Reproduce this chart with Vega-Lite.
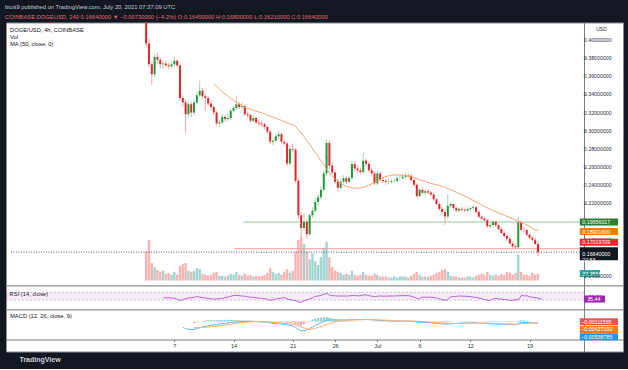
{
"$schema":"https://vega.github.io/schema/vega-lite/v6.json",
"background":"#131722",
"padding":{"left":5,"right":6,"top":3.5,"bottom":5},
"spacing":0,
"bounds":"flush",
"title":{"text":"btott9 published on TradingView.com, July 20, 2021 07:37:09 UTC","subtitle":"COINBASE:DOGEUSD, 240  0.16640000 ▼ −0.00730000 (−4.2%)  O:0.16450000  H:0.16800000  L:0.16210000  C:0.16640000","anchor":"start","fontSize":5.8,"subtitleFontSize":5.8,"color":"#c8cbd3","subtitleColor":"#e36a70","fontWeight":"normal","subtitlePadding":4,"offset":2.5,"font":"Liberation Sans","subtitleFont":"Liberation Sans"},
"config":{"font":"Liberation Sans","view":{"fill":"#ffffff","stroke":"#8a8d96","strokeWidth":1},"concat":{"spacing":0},"axis":{"grid":false,"labelOverlap":false,"labelFont":"Liberation Sans","titleFont":"Liberation Sans"}},
"resolve":{"scale":{"x":"independent"}},
"datasets":{
"pt":[{"p":0.14},{"p":0.16},{"p":0.18},{"p":0.20},{"p":0.22},{"p":0.24},{"p":0.26},{"p":0.28},{"p":0.30},{"p":0.32},{"p":0.34},{"p":0.36},{"p":0.38},{"p":0.40}],
"lv":[{"p":0.19956017,"s":"2021-06-15T03:30:00Z","k":"g"},{"p":0.17019709,"s":"2021-06-14T01:30:00Z","k":"r"}],
"lab":[{"k":"g","v":0.19956017,"t":"0.19956017"},{"k":"ma","v":0.189016,"t":"0.18901600"},{"k":"r","v":0.17019709,"t":"0.17019709"},{"k":"last","v":0.1664,"t":"0.16640000\n22:53"}],
"vl":[{"v":37.3866,"t":"37.3866"}],
"rl":[{"v":35.44,"t":"35.44"}],
"ml":[{"k":"h","v":-0.00111595,"t":"−0.00111595"},{"k":"s","v":-0.0042719,"t":"−0.00427190"},{"k":"m","v":-0.00538785,"t":"−0.00538785"}],
"k":[
{"t":"2021-06-03T16:00:00Z","o":0.428,"h":0.434,"l":0.392,"c":0.396,"v":156},
{"t":"2021-06-04T00:00:00Z","o":0.396,"h":0.401,"l":0.370,"c":0.373,"v":218},
{"t":"2021-06-04T08:00:00Z","o":0.373,"h":0.376,"l":0.350,"c":0.362,"v":94},
{"t":"2021-06-04T16:00:00Z","o":0.362,"h":0.384,"l":0.359,"c":0.381,"v":73},
{"t":"2021-06-05T00:00:00Z","o":0.381,"h":0.386,"l":0.374,"c":0.378,"v":57},
{"t":"2021-06-05T08:00:00Z","o":0.378,"h":0.381,"l":0.369,"c":0.373,"v":47},
{"t":"2021-06-05T16:00:00Z","o":0.373,"h":0.377,"l":0.368,"c":0.374,"v":52},
{"t":"2021-06-06T00:00:00Z","o":0.374,"h":0.377,"l":0.369,"c":0.372,"v":36,"r":43},
{"t":"2021-06-06T08:00:00Z","o":0.372,"h":0.375,"l":0.368,"c":0.371,"v":42,"r":42},
{"t":"2021-06-06T16:00:00Z","o":0.371,"h":0.376,"l":0.369,"c":0.373,"v":31,"r":41.5},
{"t":"2021-06-07T00:00:00Z","o":0.373,"h":0.381,"l":0.371,"c":0.377,"v":47,"r":41},
{"t":"2021-06-07T08:00:00Z","o":0.377,"h":0.379,"l":0.369,"c":0.3717,"v":31,"r":40},
{"t":"2021-06-07T16:00:00Z","o":0.3717,"h":0.374,"l":0.333,"c":0.336,"v":78,"r":33},
{"t":"2021-06-08T00:00:00Z","o":0.336,"h":0.339,"l":0.326,"c":0.331,"v":88,"r":28,"m":-0.018},
{"t":"2021-06-08T08:00:00Z","o":0.331,"h":0.334,"l":0.297,"c":0.318,"v":94,"r":33,"m":-0.022},
{"t":"2021-06-08T16:00:00Z","o":0.318,"h":0.333,"l":0.314,"c":0.329,"v":52,"r":38,"m":-0.024},
{"t":"2021-06-09T00:00:00Z","o":0.329,"h":0.332,"l":0.315,"c":0.320,"v":47,"r":42,"m":-0.025},
{"t":"2021-06-09T08:00:00Z","o":0.320,"h":0.334,"l":0.317,"c":0.331,"v":52,"r":43,"m":-0.024,"s":-0.018,"g":-0.006},
{"t":"2021-06-09T16:00:00Z","o":0.331,"h":0.343,"l":0.329,"c":0.339,"v":68,"r":46,"m":-0.022,"s":-0.019,"g":-0.003},
{"t":"2021-06-10T00:00:00Z","o":0.339,"h":0.355,"l":0.337,"c":0.344,"v":62,"r":48,"m":-0.019,"s":-0.019,"g":0},
{"t":"2021-06-10T08:00:00Z","o":0.344,"h":0.347,"l":0.335,"c":0.338,"v":36,"r":45,"m":-0.017,"s":-0.0185,"g":0.0015},
{"t":"2021-06-10T16:00:00Z","o":0.338,"h":0.341,"l":0.322,"c":0.336,"v":31,"r":42,"m":-0.015,"s":-0.018,"g":0.003},
{"t":"2021-06-11T00:00:00Z","o":0.336,"h":0.338,"l":0.327,"c":0.330,"v":26,"r":40,"m":-0.013,"s":-0.017,"g":0.004},
{"t":"2021-06-11T08:00:00Z","o":0.330,"h":0.333,"l":0.323,"c":0.326,"v":31,"r":38,"m":-0.0115,"s":-0.016,"g":0.0045},
{"t":"2021-06-11T16:00:00Z","o":0.326,"h":0.328,"l":0.317,"c":0.320,"v":42,"ma":0.352,"r":36,"m":-0.0105,"s":-0.015,"g":0.0045},
{"t":"2021-06-12T00:00:00Z","o":0.320,"h":0.322,"l":0.305,"c":0.308,"v":47,"ma":0.349,"r":35,"m":-0.0095,"s":-0.014,"g":0.0045},
{"t":"2021-06-12T08:00:00Z","o":0.308,"h":0.312,"l":0.304,"c":0.309,"v":26,"ma":0.346,"r":36,"m":-0.008,"s":-0.013,"g":0.005},
{"t":"2021-06-12T16:00:00Z","o":0.309,"h":0.318,"l":0.307,"c":0.315,"v":26,"ma":0.343,"r":38,"m":-0.0068,"s":-0.0118,"g":0.005},
{"t":"2021-06-13T00:00:00Z","o":0.315,"h":0.317,"l":0.310,"c":0.313,"v":21,"ma":0.3405,"r":40,"m":-0.0055,"s":-0.0105,"g":0.005},
{"t":"2021-06-13T08:00:00Z","o":0.313,"h":0.318,"l":0.310,"c":0.314,"v":26,"ma":0.338,"r":44,"m":-0.0042,"s":-0.0093,"g":0.0051},
{"t":"2021-06-13T16:00:00Z","o":0.314,"h":0.324,"l":0.312,"c":0.322,"v":36,"ma":0.3355,"r":48,"m":-0.003,"s":-0.008,"g":0.005},
{"t":"2021-06-14T00:00:00Z","o":0.322,"h":0.327,"l":0.320,"c":0.325,"v":31,"ma":0.3335,"r":52,"m":-0.002,"s":-0.0068,"g":0.0048},
{"t":"2021-06-14T08:00:00Z","o":0.325,"h":0.338,"l":0.323,"c":0.329,"v":47,"ma":0.3315,"r":55,"m":-0.001,"s":-0.0056,"g":0.0046},
{"t":"2021-06-14T16:00:00Z","o":0.329,"h":0.332,"l":0.323,"c":0.326,"v":31,"ma":0.3295,"r":54,"m":-0.0004,"s":-0.0045,"g":0.0041},
{"t":"2021-06-15T00:00:00Z","o":0.326,"h":0.331,"l":0.322,"c":0.327,"v":26,"ma":0.3275,"r":52,"m":0,"s":-0.0035,"g":0.0035},
{"t":"2021-06-15T08:00:00Z","o":0.327,"h":0.329,"l":0.316,"c":0.318,"v":36,"ma":0.326,"r":50,"m":0.0004,"s":-0.0026,"g":0.003},
{"t":"2021-06-15T16:00:00Z","o":0.318,"h":0.321,"l":0.314,"c":0.317,"v":26,"ma":0.3248,"r":49,"m":0.0008,"s":-0.0018,"g":0.0026},
{"t":"2021-06-16T00:00:00Z","o":0.317,"h":0.319,"l":0.309,"c":0.311,"v":31,"ma":0.3235,"r":46,"m":0.0008,"s":-0.0011,"g":0.0019},
{"t":"2021-06-16T08:00:00Z","o":0.311,"h":0.317,"l":0.309,"c":0.314,"v":21,"ma":0.3225,"r":44,"m":0.0006,"s":-0.0006,"g":0.0012},
{"t":"2021-06-16T16:00:00Z","o":0.314,"h":0.316,"l":0.307,"c":0.309,"v":26,"ma":0.3215,"r":43,"m":0.0002,"s":-0.0003,"g":0.0005},
{"t":"2021-06-17T00:00:00Z","o":0.309,"h":0.312,"l":0.305,"c":0.308,"v":21,"ma":0.3205,"r":41,"m":-0.0005,"s":-0.0002,"g":-0.0003},
{"t":"2021-06-17T08:00:00Z","o":0.308,"h":0.311,"l":0.304,"c":0.307,"v":26,"ma":0.3195,"r":40,"m":-0.0012,"s":-0.0004,"g":-0.0008},
{"t":"2021-06-17T16:00:00Z","o":0.307,"h":0.309,"l":0.301,"c":0.304,"v":31,"ma":0.3185,"r":38,"m":-0.002,"s":-0.0007,"g":-0.0013},
{"t":"2021-06-18T00:00:00Z","o":0.304,"h":0.306,"l":0.296,"c":0.299,"v":42,"ma":0.3172,"r":35,"m":-0.003,"s":-0.0012,"g":-0.0018},
{"t":"2021-06-18T08:00:00Z","o":0.299,"h":0.301,"l":0.285,"c":0.288,"v":68,"ma":0.316,"r":30,"m":-0.0045,"s":-0.0018,"g":-0.0027},
{"t":"2021-06-18T16:00:00Z","o":0.288,"h":0.292,"l":0.284,"c":0.289,"v":47,"ma":0.3148,"r":29,"m":-0.006,"s":-0.0026,"g":-0.0034},
{"t":"2021-06-19T00:00:00Z","o":0.289,"h":0.297,"l":0.287,"c":0.294,"v":36,"ma":0.3137,"r":35,"m":-0.0068,"s":-0.0035,"g":-0.0033},
{"t":"2021-06-19T08:00:00Z","o":0.294,"h":0.300,"l":0.291,"c":0.296,"v":42,"ma":0.3125,"r":38,"m":-0.007,"s":-0.0043,"g":-0.0027},
{"t":"2021-06-19T16:00:00Z","o":0.296,"h":0.298,"l":0.286,"c":0.288,"v":31,"ma":0.3113,"r":40,"m":-0.0075,"s":-0.005,"g":-0.0025},
{"t":"2021-06-20T00:00:00Z","o":0.288,"h":0.290,"l":0.283,"c":0.286,"v":47,"ma":0.310,"r":43,"m":-0.0085,"s":-0.0057,"g":-0.0028},
{"t":"2021-06-20T08:00:00Z","o":0.286,"h":0.288,"l":0.261,"c":0.264,"v":62,"ma":0.3088,"r":38,"m":-0.0105,"s":-0.0065,"g":-0.004},
{"t":"2021-06-20T16:00:00Z","o":0.264,"h":0.283,"l":0.262,"c":0.280,"v":42,"ma":0.3075,"r":32,"m":-0.012,"s":-0.0075,"g":-0.0045},
{"t":"2021-06-21T00:00:00Z","o":0.280,"h":0.286,"l":0.276,"c":0.279,"v":52,"ma":0.3063,"r":30,"m":-0.014,"s":-0.0088,"g":-0.0052},
{"t":"2021-06-21T08:00:00Z","o":0.279,"h":0.281,"l":0.242,"c":0.245,"v":156,"ma":0.305,"r":28,"m":-0.0185,"s":-0.0105,"g":-0.008},
{"t":"2021-06-21T16:00:00Z","o":0.245,"h":0.248,"l":0.203,"c":0.207,"v":218,"ma":0.301,"r":22,"m":-0.0245,"s":-0.013,"g":-0.0115},
{"t":"2021-06-22T00:00:00Z","o":0.207,"h":0.211,"l":0.180,"c":0.193,"v":234,"ma":0.2975,"r":18,"m":-0.029,"s":-0.0165,"g":-0.0125},
{"t":"2021-06-22T08:00:00Z","o":0.193,"h":0.209,"l":0.190,"c":0.200,"v":198,"ma":0.2935,"r":26,"m":-0.028,"s":-0.020,"g":-0.008},
{"t":"2021-06-22T16:00:00Z","o":0.200,"h":0.203,"l":0.181,"c":0.186,"v":156,"ma":0.289,"r":30,"m":-0.026,"s":-0.023,"g":-0.003},
{"t":"2021-06-23T00:00:00Z","o":0.186,"h":0.209,"l":0.184,"c":0.207,"v":114,"ma":0.285,"r":36,"m":-0.022,"s":-0.024,"g":0.002},
{"t":"2021-06-23T08:00:00Z","o":0.207,"h":0.216,"l":0.204,"c":0.212,"v":146,"ma":0.2805,"r":42,"m":-0.017,"s":-0.023,"g":0.006},
{"t":"2021-06-23T16:00:00Z","o":0.212,"h":0.226,"l":0.210,"c":0.2215,"v":104,"ma":0.276,"r":49,"m":-0.012,"s":-0.021,"g":0.009},
{"t":"2021-06-24T00:00:00Z","o":0.2215,"h":0.230,"l":0.218,"c":0.2268,"v":83,"ma":0.2715,"r":51,"m":-0.008,"s":-0.019,"g":0.011},
{"t":"2021-06-24T08:00:00Z","o":0.2268,"h":0.239,"l":0.224,"c":0.2352,"v":125,"ma":0.267,"r":55,"m":-0.004,"s":-0.016,"g":0.012},
{"t":"2021-06-24T16:00:00Z","o":0.2352,"h":0.256,"l":0.233,"c":0.2532,"v":177,"ma":0.2625,"r":60,"m":0,"s":-0.013,"g":0.013},
{"t":"2021-06-25T00:00:00Z","o":0.2532,"h":0.2903,"l":0.251,"c":0.2864,"v":208,"ma":0.258,"r":65,"m":0.004,"s":-0.010,"g":0.014},
{"t":"2021-06-25T08:00:00Z","o":0.2864,"h":0.289,"l":0.258,"c":0.2617,"v":125,"ma":0.2538,"r":56,"m":0.005,"s":-0.0065,"g":0.0115},
{"t":"2021-06-25T16:00:00Z","o":0.2617,"h":0.265,"l":0.252,"c":0.254,"v":73,"ma":0.250,"r":53,"m":0.0052,"s":-0.004,"g":0.0092},
{"t":"2021-06-26T00:00:00Z","o":0.254,"h":0.257,"l":0.241,"c":0.244,"v":52,"ma":0.247,"r":52,"m":0.0052,"s":-0.0015,"g":0.0067},
{"t":"2021-06-26T08:00:00Z","o":0.244,"h":0.247,"l":0.233,"c":0.2374,"v":47,"ma":0.2445,"r":51,"m":0.005,"s":0.0005,"g":0.0045},
{"t":"2021-06-26T16:00:00Z","o":0.2374,"h":0.247,"l":0.236,"c":0.244,"v":42,"ma":0.2422,"r":51,"m":0.0048,"s":0.0018,"g":0.003},
{"t":"2021-06-27T00:00:00Z","o":0.244,"h":0.251,"l":0.242,"c":0.2476,"v":31,"ma":0.2403,"r":51,"m":0.0048,"s":0.0028,"g":0.002},
{"t":"2021-06-27T08:00:00Z","o":0.2476,"h":0.250,"l":0.241,"c":0.244,"v":36,"ma":0.2388,"r":51,"m":0.005,"s":0.0035,"g":0.0015},
{"t":"2021-06-27T16:00:00Z","o":0.244,"h":0.251,"l":0.242,"c":0.2479,"v":31,"ma":0.2378,"r":52,"m":0.0052,"s":0.004,"g":0.0012},
{"t":"2021-06-28T00:00:00Z","o":0.2479,"h":0.267,"l":0.246,"c":0.2635,"v":52,"ma":0.2372,"r":54,"m":0.0058,"s":0.0044,"g":0.0014},
{"t":"2021-06-28T08:00:00Z","o":0.2635,"h":0.266,"l":0.255,"c":0.2585,"v":31,"ma":0.2368,"r":53,"m":0.006,"s":0.0048,"g":0.0012},
{"t":"2021-06-28T16:00:00Z","o":0.2585,"h":0.262,"l":0.253,"c":0.2564,"v":26,"ma":0.2368,"r":52,"m":0.006,"s":0.0051,"g":0.0009},
{"t":"2021-06-29T00:00:00Z","o":0.2564,"h":0.259,"l":0.252,"c":0.2546,"v":31,"ma":0.237,"r":53,"m":0.006,"s":0.0054,"g":0.0006},
{"t":"2021-06-29T08:00:00Z","o":0.2546,"h":0.2758,"l":0.253,"c":0.267,"v":47,"ma":0.2378,"r":57,"m":0.0063,"s":0.0056,"g":0.0007},
{"t":"2021-06-29T16:00:00Z","o":0.267,"h":0.270,"l":0.261,"c":0.2638,"v":31,"ma":0.2388,"r":56,"m":0.0062,"s":0.0058,"g":0.0004},
{"t":"2021-06-30T00:00:00Z","o":0.2638,"h":0.266,"l":0.254,"c":0.2564,"v":26,"ma":0.240,"r":52,"m":0.0058,"s":0.0059,"g":-0.0001},
{"t":"2021-06-30T08:00:00Z","o":0.2564,"h":0.259,"l":0.250,"c":0.2529,"v":26,"ma":0.2415,"r":50,"m":0.0052,"s":0.0058,"g":-0.0006},
{"t":"2021-06-30T16:00:00Z","o":0.2529,"h":0.255,"l":0.240,"c":0.2423,"v":36,"ma":0.243,"r":48,"m":0.0045,"s":0.0056,"g":-0.0011},
{"t":"2021-07-01T00:00:00Z","o":0.2423,"h":0.256,"l":0.240,"c":0.2529,"v":31,"ma":0.2448,"r":51,"m":0.004,"s":0.0053,"g":-0.0013},
{"t":"2021-07-01T08:00:00Z","o":0.2529,"h":0.255,"l":0.244,"c":0.2458,"v":21,"ma":0.2465,"r":51,"m":0.0035,"s":0.005,"g":-0.0015},
{"t":"2021-07-01T16:00:00Z","o":0.2458,"h":0.249,"l":0.242,"c":0.2448,"v":21,"ma":0.248,"r":50,"m":0.003,"s":0.0046,"g":-0.0016},
{"t":"2021-07-02T00:00:00Z","o":0.2448,"h":0.247,"l":0.240,"c":0.2437,"v":21,"ma":0.2495,"r":51,"m":0.0025,"s":0.0042,"g":-0.0017},
{"t":"2021-07-02T08:00:00Z","o":0.2437,"h":0.247,"l":0.241,"c":0.244,"v":16,"ma":0.2505,"r":51,"m":0.002,"s":0.0038,"g":-0.0018},
{"t":"2021-07-02T16:00:00Z","o":0.244,"h":0.247,"l":0.242,"c":0.2448,"v":16,"ma":0.2511,"r":51,"m":0.0016,"s":0.0034,"g":-0.0018},
{"t":"2021-07-03T00:00:00Z","o":0.2448,"h":0.248,"l":0.243,"c":0.245,"v":21,"ma":0.2513,"r":52,"m":0.0013,"s":0.003,"g":-0.0017},
{"t":"2021-07-03T08:00:00Z","o":0.245,"h":0.250,"l":0.243,"c":0.2476,"v":16,"ma":0.2513,"r":52,"m":0.0012,"s":0.0026,"g":-0.0014},
{"t":"2021-07-03T16:00:00Z","o":0.2476,"h":0.250,"l":0.245,"c":0.2476,"v":21,"ma":0.2512,"r":53,"m":0.0012,"s":0.0023,"g":-0.0011},
{"t":"2021-07-04T00:00:00Z","o":0.2476,"h":0.252,"l":0.246,"c":0.2493,"v":21,"ma":0.251,"r":53,"m":0.0012,"s":0.0021,"g":-0.0009},
{"t":"2021-07-04T08:00:00Z","o":0.2493,"h":0.254,"l":0.247,"c":0.2511,"v":21,"ma":0.2505,"r":53,"m":0.0012,"s":0.0019,"g":-0.0007},
{"t":"2021-07-04T16:00:00Z","o":0.2511,"h":0.253,"l":0.248,"c":0.2505,"v":16,"ma":0.2498,"r":52,"m":0.001,"s":0.0017,"g":-0.0007},
{"t":"2021-07-05T00:00:00Z","o":0.2505,"h":0.252,"l":0.244,"c":0.2458,"v":26,"ma":0.249,"r":47,"m":0.0005,"s":0.0015,"g":-0.001},
{"t":"2021-07-05T08:00:00Z","o":0.2458,"h":0.247,"l":0.238,"c":0.2405,"v":36,"ma":0.2482,"r":42,"m":-0.0003,"s":0.0012,"g":-0.0015},
{"t":"2021-07-05T16:00:00Z","o":0.2405,"h":0.242,"l":0.226,"c":0.2281,"v":47,"ma":0.2472,"r":36,"m":-0.0015,"s":0.0007,"g":-0.0022},
{"t":"2021-07-06T00:00:00Z","o":0.2281,"h":0.237,"l":0.227,"c":0.2352,"v":31,"ma":0.2462,"r":44,"m":-0.002,"s":0.0002,"g":-0.0022},
{"t":"2021-07-06T08:00:00Z","o":0.2352,"h":0.237,"l":0.230,"c":0.2317,"v":21,"ma":0.2452,"r":45,"m":-0.0025,"s":-0.0003,"g":-0.0022},
{"t":"2021-07-06T16:00:00Z","o":0.2317,"h":0.236,"l":0.229,"c":0.2334,"v":21,"ma":0.2442,"r":45,"m":-0.003,"s":-0.0008,"g":-0.0022},
{"t":"2021-07-07T00:00:00Z","o":0.2334,"h":0.236,"l":0.230,"c":0.232,"v":21,"ma":0.2432,"r":45,"m":-0.0035,"s":-0.0013,"g":-0.0022},
{"t":"2021-07-07T08:00:00Z","o":0.232,"h":0.234,"l":0.228,"c":0.2299,"v":26,"ma":0.2422,"r":44,"m":-0.004,"s":-0.0018,"g":-0.0022},
{"t":"2021-07-07T16:00:00Z","o":0.2299,"h":0.232,"l":0.223,"c":0.2246,"v":31,"ma":0.2413,"r":42,"m":-0.0048,"s":-0.0024,"g":-0.0024},
{"t":"2021-07-08T00:00:00Z","o":0.2246,"h":0.226,"l":0.218,"c":0.2193,"v":42,"ma":0.2405,"r":38,"m":-0.0056,"s":-0.003,"g":-0.0026},
{"t":"2021-07-08T08:00:00Z","o":0.2193,"h":0.222,"l":0.212,"c":0.214,"v":47,"ma":0.2398,"r":34,"m":-0.0064,"s":-0.0036,"g":-0.0028},
{"t":"2021-07-08T16:00:00Z","o":0.214,"h":0.216,"l":0.208,"c":0.2106,"v":57,"ma":0.2386,"r":30,"m":-0.0072,"s":-0.0043,"g":-0.0029},
{"t":"2021-07-09T00:00:00Z","o":0.2106,"h":0.213,"l":0.1964,"c":0.2056,"v":62,"ma":0.2375,"r":29,"m":-0.0078,"s":-0.005,"g":-0.0028},
{"t":"2021-07-09T08:00:00Z","o":0.2056,"h":0.230,"l":0.204,"c":0.2176,"v":47,"ma":0.2365,"r":45,"m":-0.0074,"s":-0.0055,"g":-0.0019},
{"t":"2021-07-09T16:00:00Z","o":0.2176,"h":0.222,"l":0.215,"c":0.2193,"v":26,"ma":0.2352,"r":48,"m":-0.007,"s":-0.0059,"g":-0.0011},
{"t":"2021-07-10T00:00:00Z","o":0.2193,"h":0.221,"l":0.213,"c":0.2151,"v":21,"ma":0.2338,"r":49,"m":-0.0065,"s":-0.0061,"g":-0.0004},
{"t":"2021-07-10T08:00:00Z","o":0.2151,"h":0.217,"l":0.210,"c":0.2123,"v":21,"ma":0.2324,"r":51,"m":-0.006,"s":-0.0062,"g":0.0002},
{"t":"2021-07-10T16:00:00Z","o":0.2123,"h":0.216,"l":0.210,"c":0.214,"v":16,"ma":0.231,"r":51,"m":-0.0055,"s":-0.0061,"g":0.0006},
{"t":"2021-07-11T00:00:00Z","o":0.214,"h":0.216,"l":0.211,"c":0.213,"v":16,"ma":0.2295,"r":50,"m":-0.005,"s":-0.006,"g":0.001},
{"t":"2021-07-11T08:00:00Z","o":0.213,"h":0.215,"l":0.210,"c":0.2123,"v":16,"ma":0.228,"r":49,"m":-0.0046,"s":-0.0057,"g":0.0011},
{"t":"2021-07-11T16:00:00Z","o":0.2123,"h":0.216,"l":0.211,"c":0.214,"v":21,"ma":0.2265,"r":48,"m":-0.0042,"s":-0.0054,"g":0.0012},
{"t":"2021-07-12T00:00:00Z","o":0.214,"h":0.217,"l":0.212,"c":0.2151,"v":21,"ma":0.225,"r":46,"m":-0.004,"s":-0.0051,"g":0.0011},
{"t":"2021-07-12T08:00:00Z","o":0.2151,"h":0.218,"l":0.213,"c":0.2159,"v":16,"ma":0.2235,"r":44,"m":-0.0038,"s":-0.0048,"g":0.001},
{"t":"2021-07-12T16:00:00Z","o":0.2159,"h":0.217,"l":0.209,"c":0.2109,"v":26,"ma":0.2218,"r":41,"m":-0.004,"s":-0.0046,"g":0.0006},
{"t":"2021-07-13T00:00:00Z","o":0.2109,"h":0.212,"l":0.204,"c":0.2053,"v":31,"ma":0.2202,"r":38,"m":-0.0045,"s":-0.0045,"g":0},
{"t":"2021-07-13T08:00:00Z","o":0.2053,"h":0.207,"l":0.202,"c":0.2035,"v":36,"ma":0.2185,"r":33,"m":-0.0052,"s":-0.0046,"g":-0.0006},
{"t":"2021-07-13T16:00:00Z","o":0.2035,"h":0.205,"l":0.200,"c":0.2014,"v":31,"ma":0.2168,"r":30,"m":-0.006,"s":-0.0048,"g":-0.0012},
{"t":"2021-07-14T00:00:00Z","o":0.2014,"h":0.203,"l":0.193,"c":0.195,"v":47,"ma":0.2152,"r":28,"m":-0.0068,"s":-0.0051,"g":-0.0017},
{"t":"2021-07-14T08:00:00Z","o":0.195,"h":0.198,"l":0.193,"c":0.1964,"v":31,"ma":0.2138,"r":36,"m":-0.0072,"s":-0.0054,"g":-0.0018},
{"t":"2021-07-14T16:00:00Z","o":0.1964,"h":0.202,"l":0.195,"c":0.200,"v":26,"ma":0.2124,"r":38,"m":-0.0072,"s":-0.0058,"g":-0.0014},
{"t":"2021-07-15T00:00:00Z","o":0.200,"h":0.201,"l":0.194,"c":0.196,"v":31,"ma":0.211,"r":36,"m":-0.0074,"s":-0.0061,"g":-0.0013},
{"t":"2021-07-15T08:00:00Z","o":0.196,"h":0.198,"l":0.190,"c":0.1919,"v":26,"ma":0.2096,"r":35,"m":-0.0078,"s":-0.0064,"g":-0.0014},
{"t":"2021-07-15T16:00:00Z","o":0.1919,"h":0.194,"l":0.186,"c":0.1876,"v":36,"ma":0.2082,"r":33,"m":-0.0082,"s":-0.0067,"g":-0.0015},
{"t":"2021-07-16T00:00:00Z","o":0.1876,"h":0.190,"l":0.182,"c":0.1841,"v":31,"ma":0.207,"r":31,"m":-0.0086,"s":-0.007,"g":-0.0016},
{"t":"2021-07-16T08:00:00Z","o":0.1841,"h":0.186,"l":0.179,"c":0.1813,"v":47,"ma":0.2058,"r":29,"m":-0.009,"s":-0.0073,"g":-0.0017},
{"t":"2021-07-16T16:00:00Z","o":0.1813,"h":0.183,"l":0.175,"c":0.176,"v":42,"ma":0.2045,"r":30,"m":-0.0094,"s":-0.0077,"g":-0.0017},
{"t":"2021-07-17T00:00:00Z","o":0.176,"h":0.178,"l":0.171,"c":0.1728,"v":31,"ma":0.2032,"r":32,"m":-0.0098,"s":-0.0081,"g":-0.0017},
{"t":"2021-07-17T08:00:00Z","o":0.1728,"h":0.175,"l":0.1696,"c":0.1717,"v":42,"ma":0.2018,"r":33,"m":-0.0098,"s":-0.0084,"g":-0.0014},
{"t":"2021-07-17T16:00:00Z","o":0.1717,"h":0.2053,"l":0.170,"c":0.1993,"v":140,"ma":0.2005,"r":56,"m":-0.005,"s":-0.0078,"g":0.0028},
{"t":"2021-07-18T00:00:00Z","o":0.1993,"h":0.201,"l":0.189,"c":0.1911,"v":47,"ma":0.1992,"r":52,"m":-0.003,"s":-0.007,"g":0.004},
{"t":"2021-07-18T08:00:00Z","o":0.1911,"h":0.194,"l":0.188,"c":0.1908,"v":31,"ma":0.1978,"r":52,"m":-0.0025,"s":-0.006,"g":0.0035},
{"t":"2021-07-18T16:00:00Z","o":0.1908,"h":0.192,"l":0.184,"c":0.1855,"v":31,"ma":0.1962,"r":46,"m":-0.003,"s":-0.0055,"g":0.0025},
{"t":"2021-07-19T00:00:00Z","o":0.1855,"h":0.187,"l":0.181,"c":0.1823,"v":26,"ma":0.1945,"r":44,"m":-0.0038,"s":-0.005,"g":0.0012},
{"t":"2021-07-19T08:00:00Z","o":0.1823,"h":0.184,"l":0.178,"c":0.1802,"v":42,"ma":0.1928,"r":42,"m":-0.0045,"s":-0.0048,"g":0.0003},
{"t":"2021-07-19T16:00:00Z","o":0.1802,"h":0.182,"l":0.174,"c":0.1755,"v":31,"ma":0.1912,"r":39,"m":-0.005,"s":-0.0045,"g":-0.0005},
{"t":"2021-07-20T00:00:00Z","o":0.1755,"h":0.178,"l":0.1621,"c":0.1664,"v":37.39,"ma":0.1901,"r":35.44,"m":-0.00538785,"s":-0.0042719,"g":-0.00111595}
]},
"vconcat":[
{
"width":617,"height":263,
"title":{"text":["DOGE/USD, 4h, COINBASE","Vol","MA (50, close, 0)"],"anchor":"start","orient":"top","offset":-24.5,"dx":4,"fontSize":5.8,"color":"#131722","lineHeight":7.3,"fontWeight":"normal"},
"resolve":{"scale":{"y":"independent"}},
"layer":[
 {"layer":[
  {"data":{"name":"k"},"mark":{"type":"bar","size":2.4,"clip":true},"encoding":{
    "x":{"field":"t","type":"temporal","scale":{"type":"utc","domain":[{"year":2021,"month":5,"date":18,"hours":16,"minutes":30,"utc":true},{"year":2021,"month":7,"date":29,"hours":11,"utc":true}]},"axis":null},
    "y":{"field":"v","type":"quantitative","scale":{"domain":[0,1365],"nice":false},"axis":null,"stack":null},
    "color":{"condition":{"test":"datum.c >= datum.o","value":"#9fd6d1"},"value":"#f8b4b2"}}},
  {"data":{"name":"vl"},"layer":[
    {"mark":{"type":"bar","orient":"horizontal","size":7,"color":"#26a69a"},"encoding":{"x":{"datum":{"year":2021,"month":7,"date":24,"hours":22,"minutes":30,"utc":true},"type":"temporal","axis":null},"x2":{"datum":{"year":2021,"month":7,"date":27,"hours":8,"utc":true}},"y":{"field":"v","type":"quantitative","axis":null,"scale":{"domain":[0,1365],"nice":false}}}},
    {"mark":{"type":"text","align":"left","baseline":"middle","dx":2.5,"fontSize":5.3,"color":"#ffffff"},"encoding":{"x":{"datum":{"year":2021,"month":7,"date":24,"hours":22,"minutes":30,"utc":true},"type":"temporal","axis":null},"y":{"field":"v","type":"quantitative","axis":null,"scale":{"domain":[0,1365],"nice":false}},"text":{"field":"t"}}}
  ]}
 ]},
 {"layer":[
  {"data":{"name":"lv"},"mark":{"type":"rule","strokeWidth":1},"encoding":{
    "x":{"field":"s","type":"temporal","axis":null},
    "x2":{"datum":{"year":2021,"month":7,"date":24,"hours":22,"minutes":30,"utc":true}},
    "y":{"field":"p","type":"quantitative","title":"USD","scale":{"domain":[0.13524,0.41355],"nice":false,"zero":false},
      "axis":{"orient":"right","offset":-39,"values":[0.14,0.16,0.18,0.2,0.22,0.24,0.26,0.28,0.3,0.32,0.34,0.36,0.38,0.4],"labels":false,"tickSize":2,"tickColor":"#787b86","domainColor":"#787b86","titleAngle":0,"titleFontSize":5,"titleFontWeight":"normal","titleColor":"#2a2e39","titleX":17,"titleY":6,"titleAlign":"center","titleBaseline":"middle"}},
    "color":{"field":"k","type":"nominal","scale":{"domain":["g","r"],"range":["#8fc79a","#f59c9c"]},"legend":null}}},
  {"data":{"name":"pt"},"mark":{"type":"text","align":"left","baseline":"middle","dx":4,"fontSize":5.3,"color":"#2a2e39"},"encoding":{"x":{"datum":{"year":2021,"month":7,"date":24,"hours":22,"minutes":30,"utc":true},"type":"temporal","axis":null},"y":{"field":"p","type":"quantitative","title":"USD","scale":{"domain":[0.13524,0.41355],"nice":false,"zero":false}},"text":{"field":"p","format":".8f"}}},
  {"data":{"name":"lab"},"transform":[{"filter":"datum.k == 'last'"}],"mark":{"type":"rule","strokeDash":[1,1.5],"color":"#5d606b","strokeWidth":1},"encoding":{"x":{"datum":{"year":2021,"month":5,"date":18,"hours":16,"minutes":30,"utc":true},"type":"temporal","axis":null},"x2":{"datum":{"year":2021,"month":7,"date":24,"hours":22,"minutes":30,"utc":true}},"y":{"field":"v","type":"quantitative","title":"USD","scale":{"domain":[0.13524,0.41355],"nice":false,"zero":false}}}},
  {"data":{"name":"k"},"mark":{"type":"rule","strokeWidth":1,"clip":true},"encoding":{"x":{"field":"t","type":"temporal","axis":null},"y":{"field":"l","type":"quantitative","title":"USD","scale":{"domain":[0.13524,0.41355],"nice":false,"zero":false}},"y2":{"field":"h"},"color":{"condition":{"test":"datum.c >= datum.o","value":"#a3d9ae"},"value":"#f7a8a8"}}},
  {"data":{"name":"k"},"mark":{"type":"bar","size":2,"clip":true},"encoding":{"x":{"field":"t","type":"temporal","axis":null},"y":{"field":"o","type":"quantitative","title":"USD","scale":{"domain":[0.13524,0.41355],"nice":false,"zero":false}},"y2":{"field":"c"},"color":{"condition":{"test":"datum.c >= datum.o","value":"#1f9a3c"},"value":"#e0262b"}}},
  {"data":{"name":"k"},"mark":{"type":"line","color":"#f7a26b","strokeWidth":1,"clip":true},"encoding":{"x":{"field":"t","type":"temporal","axis":null},"y":{"field":"ma","type":"quantitative","title":"USD","scale":{"domain":[0.13524,0.41355],"nice":false,"zero":false}}}},
  {"data":{"name":"lab"},"transform":[{"filter":"datum.k == 'g'"}],"layer":[
    {"mark":{"type":"bar","orient":"horizontal","size":7,"color":"#2e7d32"},"encoding":{"x":{"datum":{"year":2021,"month":7,"date":24,"hours":22,"minutes":30,"utc":true},"type":"temporal","axis":null},"x2":{"datum":{"year":2021,"month":7,"date":29,"hours":11,"utc":true}},"y":{"field":"v","type":"quantitative","title":"USD"}}},
    {"mark":{"type":"text","align":"left","baseline":"middle","dx":2.5,"fontSize":5.3,"color":"#ffffff"},"encoding":{"x":{"datum":{"year":2021,"month":7,"date":24,"hours":22,"minutes":30,"utc":true},"type":"temporal","axis":null},"y":{"field":"v","type":"quantitative","title":"USD"},"text":{"field":"t"}}}
  ]},
  {"data":{"name":"lab"},"transform":[{"filter":"datum.k == 'ma'"}],"layer":[
    {"mark":{"type":"bar","orient":"horizontal","size":7,"color":"#f57c00"},"encoding":{"x":{"datum":{"year":2021,"month":7,"date":24,"hours":22,"minutes":30,"utc":true},"type":"temporal","axis":null},"x2":{"datum":{"year":2021,"month":7,"date":29,"hours":11,"utc":true}},"y":{"field":"v","type":"quantitative","title":"USD"}}},
    {"mark":{"type":"text","align":"left","baseline":"middle","dx":2.5,"fontSize":5.3,"color":"#ffffff"},"encoding":{"x":{"datum":{"year":2021,"month":7,"date":24,"hours":22,"minutes":30,"utc":true},"type":"temporal","axis":null},"y":{"field":"v","type":"quantitative","title":"USD"},"text":{"field":"t"}}}
  ]},
  {"data":{"name":"lab"},"transform":[{"filter":"datum.k == 'r'"}],"layer":[
    {"mark":{"type":"bar","orient":"horizontal","size":7,"color":"#f7252e","yOffset":-6.4},"encoding":{"x":{"datum":{"year":2021,"month":7,"date":24,"hours":22,"minutes":30,"utc":true},"type":"temporal","axis":null},"x2":{"datum":{"year":2021,"month":7,"date":29,"hours":11,"utc":true}},"y":{"field":"v","type":"quantitative","title":"USD"}}},
    {"mark":{"type":"text","align":"left","baseline":"middle","dx":2.5,"yOffset":-6.4,"fontSize":5.3,"color":"#ffffff"},"encoding":{"x":{"datum":{"year":2021,"month":7,"date":24,"hours":22,"minutes":30,"utc":true},"type":"temporal","axis":null},"y":{"field":"v","type":"quantitative","title":"USD"},"text":{"field":"t"}}}
  ]},
  {"data":{"name":"lab"},"transform":[{"filter":"datum.k == 'last'"}],"layer":[
    {"mark":{"type":"bar","orient":"horizontal","size":13,"color":"#131722","yOffset":1.5},"encoding":{"x":{"datum":{"year":2021,"month":7,"date":24,"hours":22,"minutes":30,"utc":true},"type":"temporal","axis":null},"x2":{"datum":{"year":2021,"month":7,"date":29,"hours":11,"utc":true}},"y":{"field":"v","type":"quantitative","title":"USD"}}},
    {"mark":{"type":"text","align":"left","baseline":"middle","dx":2.5,"yOffset":1.5,"fontSize":5.3,"lineBreak":"\n","lineHeight":6,"color":"#ffffff"},"encoding":{"x":{"datum":{"year":2021,"month":7,"date":24,"hours":22,"minutes":30,"utc":true},"type":"temporal","axis":null},"y":{"field":"v","type":"quantitative","title":"USD"},"text":{"field":"t"}}}
  ]}
 ]}
]
},
{
"width":617,"height":24,
"title":{"text":"RSI (14, close)","anchor":"start","orient":"top","offset":-11,"dx":4,"fontSize":5.8,"color":"#131722","fontWeight":"normal"},
"layer":[
 {"data":{"values":[{}]},"mark":{"type":"rect","color":"#9c27b0","opacity":0.09},"encoding":{
   "x":{"datum":{"year":2021,"month":5,"date":18,"hours":16,"minutes":30,"utc":true},"type":"temporal","scale":{"type":"utc","domain":[{"year":2021,"month":5,"date":18,"hours":16,"minutes":30,"utc":true},{"year":2021,"month":7,"date":29,"hours":11,"utc":true}]},"axis":null},
   "x2":{"datum":{"year":2021,"month":7,"date":24,"hours":22,"minutes":30,"utc":true}},
   "y":{"datum":70,"type":"quantitative","scale":{"domain":[7.4,79.6],"nice":false,"zero":false},"axis":{"orient":"right","offset":-39,"values":[50],"format":".2f","labelFontSize":5.3,"labelColor":"#2a2e39","labelPadding":2,"tickSize":2,"tickColor":"#787b86","domainColor":"#787b86","title":null}},
   "y2":{"datum":30}}},
 {"data":{"values":[{"y":70},{"y":30}]},"mark":{"type":"rule","strokeDash":[2,2],"color":"#c5a3d6","strokeWidth":0.8},"encoding":{"x":{"datum":{"year":2021,"month":5,"date":18,"hours":16,"minutes":30,"utc":true},"type":"temporal","axis":null},"x2":{"datum":{"year":2021,"month":7,"date":24,"hours":22,"minutes":30,"utc":true}},"y":{"field":"y","type":"quantitative","title":null}}},
 {"data":{"name":"k"},"mark":{"type":"line","color":"#b266cc","strokeWidth":1},"encoding":{"x":{"field":"t","type":"temporal","axis":null},"y":{"field":"r","type":"quantitative","title":null}}},
 {"data":{"name":"rl"},"layer":[
   {"mark":{"type":"bar","orient":"horizontal","size":7,"color":"#9c27b0"},"encoding":{"x":{"datum":{"year":2021,"month":7,"date":24,"hours":22,"minutes":30,"utc":true},"type":"temporal","axis":null},"x2":{"datum":{"year":2021,"month":7,"date":27,"hours":9,"utc":true}},"y":{"field":"v","type":"quantitative","title":null}}},
   {"mark":{"type":"text","align":"left","baseline":"middle","dx":3,"fontSize":5.3,"color":"#ffffff"},"encoding":{"x":{"datum":{"year":2021,"month":7,"date":24,"hours":22,"minutes":30,"utc":true},"type":"temporal","axis":null},"y":{"field":"v","type":"quantitative","title":null},"text":{"field":"t"}}}
 ]}
]
},
{
"width":617,"height":42,
"title":{"text":"MACD (12, 26, close, 9)","anchor":"start","orient":"top","offset":-9.5,"dx":4,"fontSize":5.8,"color":"#131722","fontWeight":"normal"},
"layer":[
 {"data":{"name":"k"},"mark":{"type":"bar","size":2.2},"encoding":{
   "x":{"field":"t","type":"temporal","scale":{"type":"utc","domain":[{"year":2021,"month":5,"date":18,"hours":16,"minutes":30,"utc":true},{"year":2021,"month":7,"date":29,"hours":11,"utc":true}]},
     "axis":{"orient":"bottom","offset":-12,"values":[{"year":2021,"month":6,"date":7,"utc":true},{"year":2021,"month":6,"date":14,"utc":true},{"year":2021,"month":6,"date":21,"utc":true},{"year":2021,"month":6,"date":26,"utc":true},{"year":2021,"month":7,"date":1,"utc":true},{"year":2021,"month":7,"date":6,"utc":true},{"year":2021,"month":7,"date":12,"utc":true},{"year":2021,"month":7,"date":19,"utc":true}],
       "labelExpr":"utcdate(datum.value) == 1 ? utcFormat(datum.value, '%b') : utcFormat(datum.value, '%-d')","labelFontSize":5.5,"labelColor":"#2a2e39","labelPadding":1.5,"tickSize":2,"tickColor":"#787b86","domainColor":"#787b86","labelFlush":false,
       "title":"TradingView","titleColor":"#d1d4dc","titleFontSize":7,"titleFontWeight":"bold","titleX":13,"titleY":22,"titleAlign":"left","titleAnchor":"start","titleBaseline":"alphabetic"}},
   "y":{"field":"g","type":"quantitative","title":null,"scale":{"domain":[-0.077,0.0216],"nice":false,"zero":false},"axis":{"orient":"right","offset":-39,"values":[],"labels":false,"ticks":false,"domainColor":"#787b86","title":null}},
   "y2":{"datum":0},
   "color":{"condition":{"test":"datum.g >= 0","value":"#93d3cd"},"value":"#f7aaa8"}}},
 {"data":{"name":"k"},"mark":{"type":"line","color":"#5fb7f2","strokeWidth":1},"encoding":{"x":{"field":"t","type":"temporal"},"y":{"field":"m","type":"quantitative","title":null}}},
 {"data":{"name":"k"},"mark":{"type":"line","color":"#ffae73","strokeWidth":1},"encoding":{"x":{"field":"t","type":"temporal"},"y":{"field":"s","type":"quantitative","title":null}}},
 {"data":{"name":"ml"},"transform":[{"filter":"datum.k == 'h'"}],"layer":[
   {"mark":{"type":"bar","orient":"horizontal","size":7,"color":"#ef5350"},"encoding":{"x":{"datum":{"year":2021,"month":7,"date":24,"hours":22,"minutes":30,"utc":true},"type":"temporal"},"x2":{"datum":{"year":2021,"month":7,"date":29,"hours":11,"utc":true}},"y":{"field":"v","type":"quantitative","title":null}}},
   {"mark":{"type":"text","align":"left","baseline":"middle","dx":1.5,"fontSize":5.3,"color":"#ffffff"},"encoding":{"x":{"datum":{"year":2021,"month":7,"date":24,"hours":22,"minutes":30,"utc":true},"type":"temporal"},"y":{"field":"v","type":"quantitative","title":null},"text":{"field":"t"}}}
 ]},
 {"data":{"name":"ml"},"transform":[{"filter":"datum.k == 's'"}],"layer":[
   {"mark":{"type":"bar","orient":"horizontal","size":7,"color":"#ff7a1a","yOffset":6.5},"encoding":{"x":{"datum":{"year":2021,"month":7,"date":24,"hours":22,"minutes":30,"utc":true},"type":"temporal"},"x2":{"datum":{"year":2021,"month":7,"date":29,"hours":11,"utc":true}},"y":{"field":"v","type":"quantitative","title":null}}},
   {"mark":{"type":"text","align":"left","baseline":"middle","dx":1.5,"yOffset":6.5,"fontSize":5.3,"color":"#ffffff"},"encoding":{"x":{"datum":{"year":2021,"month":7,"date":24,"hours":22,"minutes":30,"utc":true},"type":"temporal"},"y":{"field":"v","type":"quantitative","title":null},"text":{"field":"t"}}}
 ]},
 {"data":{"name":"ml"},"transform":[{"filter":"datum.k == 'm'"}],"layer":[
   {"mark":{"type":"bar","orient":"horizontal","size":7,"color":"#2196f3","yOffset":13.5},"encoding":{"x":{"datum":{"year":2021,"month":7,"date":24,"hours":22,"minutes":30,"utc":true},"type":"temporal"},"x2":{"datum":{"year":2021,"month":7,"date":29,"hours":11,"utc":true}},"y":{"field":"v","type":"quantitative","title":null}}},
   {"mark":{"type":"text","align":"left","baseline":"middle","dx":1.5,"yOffset":13.5,"fontSize":5.3,"color":"#ffffff"},"encoding":{"x":{"datum":{"year":2021,"month":7,"date":24,"hours":22,"minutes":30,"utc":true},"type":"temporal"},"y":{"field":"v","type":"quantitative","title":null},"text":{"field":"t"}}}
 ]}
]
}
]
}
